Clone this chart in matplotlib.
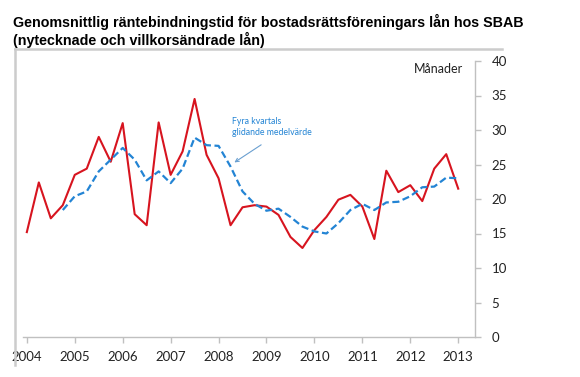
import matplotlib
matplotlib.use("Agg")
import matplotlib.pyplot as plt
import numpy as np

# Quarterly data, 2004 Q1 .. 2013 Q1
quarters = [2004 + i * 0.25 for i in range(37)]
rate_months = [15.2, 22.4, 17.2, 19.1, 23.5, 24.4, 29.0, 25.4, 31.0, 17.8,
               16.2, 31.1, 23.5, 26.9, 34.5, 26.4, 23.0, 16.2, 18.8, 19.1,
               18.9, 17.7, 14.5, 12.9, 15.5, 17.4, 19.9, 20.6, 18.9, 14.2,
               24.1, 21.0, 22.0, 19.7, 24.4, 26.5, 21.5]
ma_quarters = quarters[3:]
ma_months = [18.4, 20.4, 21.1, 24.0, 25.7, 27.4, 25.7, 22.7, 24.0, 22.3,
             24.4, 28.9, 27.8, 27.7, 24.7, 21.1, 19.3, 18.3, 18.6, 17.4,
             16.0, 15.3, 15.0, 16.5, 18.4, 19.3, 18.4, 19.5, 19.6, 20.4,
             21.7, 21.8, 23.1, 23.0]
year_ticks = list(range(2004, 2014))
y_ticks = [0, 5, 10, 15, 20, 25, 30, 35, 40]

W, H = 580, 377
fig = plt.figure(figsize=(W / 100, H / 100), dpi=100)

axl, axr = 23, 475
ayt, ayb = 61, 337
ax = fig.add_axes([axl / W, 1 - ayb / H, (axr - axl) / W, (ayb - ayt) / H])

ax.plot(quarters, rate_months, color="#d7141f", lw=1.5, zorder=3)
ax.plot(ma_quarters, ma_months, color="#2384d4", lw=1.6, ls=(0, (3.2, 1.6)), zorder=4)

ax.set_xlim(2003.92, 2013.35)
ax.set_ylim(0, 40)

gray = "#c0c0c0"
for s in ["top", "left"]:
    ax.spines[s].set_visible(False)
ax.spines["bottom"].set_color(gray)
ax.spines["right"].set_color(gray)
ax.spines["bottom"].set_linewidth(1.0)
ax.spines["right"].set_linewidth(1.0)

ax.yaxis.tick_right()
ax.set_yticks(y_ticks)
ax.set_yticklabels([str(v) for v in y_ticks])
ax.set_xticks(year_ticks)
ax.set_xticklabels([str(v) for v in year_ticks])
ax.tick_params(axis="both", colors=gray, labelcolor="#222222", labelsize=9.5,
               length=4, width=1.0, direction="out")
ax.tick_params(axis="y", pad=8)
ax.tick_params(axis="x", pad=6)
for lab in ax.get_xticklabels() + ax.get_yticklabels():
    lab.set_fontfamily("Lato")

ax.text(2013.1, 38.8, "Månader", ha="right", va="center", fontsize=9,
        family="Lato", color="#222222")

ax.annotate("Fyra kvartals\nglidande medelvärde", xy=(2008.33, 25.3),
            xytext=(2008.29, 30.4), fontsize=6.3, family="Lato",
            color="#2384d4", ha="left", va="center", linespacing=1.35,
            arrowprops=dict(arrowstyle="->", color="#6a9fd0", lw=0.8,
                            shrinkA=6, shrinkB=0, relpos=(0.5, 0.0)))

# Title
fig.text(13 / W, 1 - 22 / H, "Genomsnittlig räntebindningstid för bostadsrättsföreningars lån hos SBAB",
         fontsize=10.3, fontweight="bold", family="Liberation Sans", va="center", ha="left")
fig.text(13 / W, 1 - 40 / H, "(nytecknade och villkorsändrade lån)",
         fontsize=10.3, fontweight="bold", family="Liberation Sans", va="center", ha="left")

# Gray frame lines
fig.add_artist(plt.Line2D([15 / W, 15 / W], [1 - 49 / H, 1 - 365 / H], color="#cccccc", lw=1.8,
                          transform=fig.transFigure))
fig.add_artist(plt.Line2D([15 / W, 502 / W], [1 - 49 / H, 1 - 49 / H], color="#cccccc", lw=1.8,
                          transform=fig.transFigure))

fig.savefig("out.png", dpi=100)
